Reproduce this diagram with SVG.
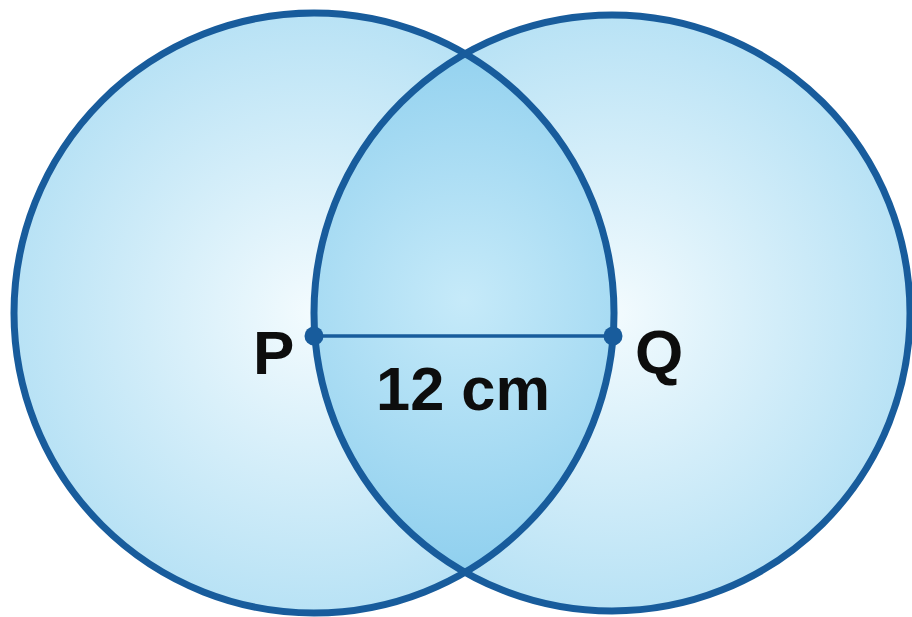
<svg xmlns="http://www.w3.org/2000/svg" width="912" height="617" viewBox="0 0 912 617">
  <defs>
    <radialGradient id="gL" cx="314" cy="313" r="300" gradientUnits="userSpaceOnUse">
      <stop offset="0" stop-color="#f3fbfe"/>
      <stop offset="1" stop-color="#b8e2f5"/>
    </radialGradient>
    <radialGradient id="gR" cx="612" cy="313" r="298" gradientUnits="userSpaceOnUse">
      <stop offset="0" stop-color="#f3fbfe"/>
      <stop offset="1" stop-color="#b8e2f5"/>
    </radialGradient>
    <radialGradient id="gLens" cx="464" cy="300" r="280" gradientUnits="userSpaceOnUse">
      <stop offset="0" stop-color="#c6eaf9"/>
      <stop offset="1" stop-color="#8ecfee"/>
    </radialGradient>
    <clipPath id="clipL">
      <circle cx="314" cy="313" r="300"/>
    </clipPath>
    <style>
      .edge { fill: none; stroke: #185c9c; stroke-width: 7; }
      .dot { fill: #185c9c; }
      .lbl { font-family: "Liberation Sans", Arial, sans-serif; font-weight: bold; font-size: 62px; fill: #0d0d0d; }
    </style>
  </defs>
  <rect width="912" height="617" fill="#ffffff"/>
  <g id="circle-P">
    <circle cx="314" cy="313" r="300" fill="url(#gL)"/>
  </g>
  <g id="circle-Q">
    <circle cx="612" cy="313" r="298" fill="url(#gR)"/>
  </g>
  <g id="lens">
    <circle cx="612" cy="313" r="298" fill="url(#gLens)" clip-path="url(#clipL)"/>
  </g>
  <g id="outlines">
    <circle class="edge" cx="314" cy="313" r="300"/>
    <circle class="edge" cx="612" cy="313" r="298"/>
  </g>
  <g id="connectors">
    <line x1="314" y1="336" x2="613" y2="336" stroke="#185c9c" stroke-width="3.5"/>
  </g>
  <g id="node-P">
    <circle class="dot" cx="314" cy="336" r="9.5"/>
    <text class="lbl" x="253" y="374">P</text>
  </g>
  <g id="node-Q">
    <circle class="dot" cx="613" cy="336" r="9.5"/>
    <text class="lbl" x="635" y="373">Q</text>
  </g>
  <g id="label-length">
    <text class="lbl" x="376" y="410" textLength="174" lengthAdjust="spacingAndGlyphs">12 cm</text>
  </g>
</svg>
